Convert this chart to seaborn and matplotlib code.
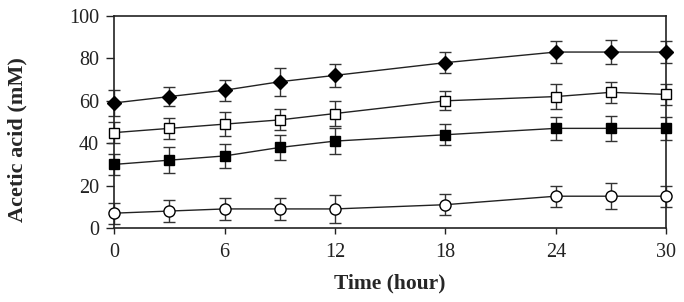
import numpy as np
import pandas as pd
import matplotlib
matplotlib.use("Agg")
from matplotlib import pyplot as plt
import seaborn as sns

sns.set_style("white")
plt.rcParams['font.family'] = ['Liberation Serif', 'DejaVu Serif']

# time points (hour)
time = [0, 3, 6, 9, 12, 18, 24, 27, 30]

# acetic acid (mM), four series
diamond_fill = [59, 62, 65, 69, 72, 78, 83, 83, 83]
diamond_err = [6, 4.5, 5, 6.5, 5.5, 5, 5, 5.5, 5]
square_open = [45, 47, 49, 51, 54, 60, 62, 64, 63]
square_open_err = [5, 5, 5.5, 5, 6, 4.5, 6, 5, 5]
square_fill = [30, 32, 34, 38, 41, 44, 47, 47, 47]
square_fill_err = [5, 6, 5.5, 6, 6, 5, 5.5, 6, 5.5]
circle_open = [7, 8, 9, 9, 9, 11, 15, 15, 15]
circle_open_err = [5, 5, 5, 5, 6.5, 5, 5, 6, 5]

series = [
    (diamond_fill, diamond_err, 'D', 'black', 7),
    (square_open, square_open_err, 's', 'white', 7.5),
    (square_fill, square_fill_err, 's', 'black', 7.5),
    (circle_open, circle_open_err, 'o', 'white', 8),
]

fig = plt.figure(figsize=(6.84, 3.02), dpi=100)
ax = fig.add_axes([0.167, 0.245, 0.807, 0.702])

for vals, errs, mk, fc, ms in series:
    df = pd.DataFrame({'t': time, 'v': vals})
    eb = ax.errorbar(time, vals, yerr=errs, fmt='none', ecolor='#333333',
                     elinewidth=1, capsize=4, capthick=1, zorder=2)
    for art in eb.lines[1] + eb.lines[2]:
        art.set_clip_on(False)
    sns.lineplot(data=df, x='t', y='v', ax=ax, color='#222222', lw=1,
                 marker=mk, markersize=ms, markerfacecolor=fc,
                 markeredgecolor='black', markeredgewidth=1, zorder=3,
                 clip_on=False)

ax.set_xlim(0, 30)
ax.set_ylim(0, 100)
ax.set_xticks([0, 6, 12, 18, 24, 30])
ax.set_yticks([0, 20, 40, 60, 80, 100])
for s in ax.spines.values():
    s.set_color('#222222')
    s.set_linewidth(1.2)
    s.set_visible(True)
ax.tick_params(direction='out', width=1, labelsize=14.5,
               colors='#222222', left=True, bottom=True)
ax.tick_params(axis='y', length=6, pad=5)
ax.tick_params(axis='x', length=4, pad=7)
ax.set_xlabel('Time (hour)', fontsize=15.5, fontweight='bold')
ax.set_ylabel('Acetic acid (mM)', fontsize=16, fontweight='bold')
ax.xaxis.set_label_coords(0.5, -0.215)
ax.yaxis.set_label_coords(-0.158, 0.415)

fig.savefig('out.png', dpi=100)
